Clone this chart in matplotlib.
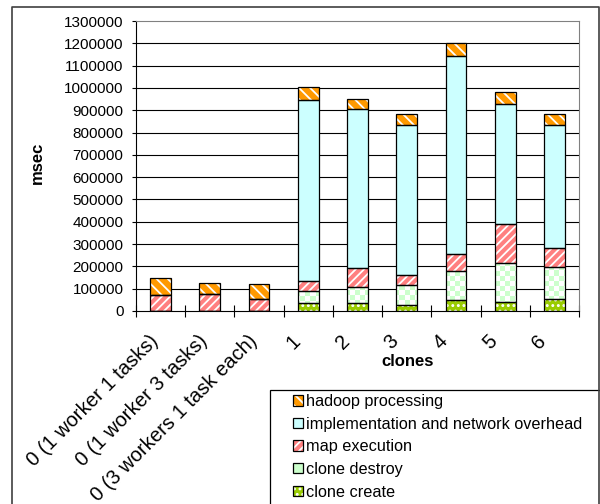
import numpy as np
import matplotlib.pyplot as plt
from matplotlib.colors import ListedColormap
from matplotlib.lines import Line2D
from matplotlib.patches import Rectangle
from matplotlib.ticker import StrMethodFormatter
from matplotlib.transforms import ScaledTranslation

plt.rcParams['font.family'] = ['Liberation Sans', 'DejaVu Sans']
plt.rcParams['hatch.linewidth'] = 1.3

# data (msec)
categories = ['0 (1 worker 1 tasks)', '0 (1 worker 3 tasks)', '0 (3 workers 1 task each)',
              '1', '2', '3', '4', '5', '6']
clone_create = [0, 0, 0, 36000, 34000, 25000, 49000, 42000, 54000]
clone_destroy = [0, 0, 0, 52000, 72000, 92000, 130000, 172000, 145000]
map_execution = [72000, 76000, 54000, 46000, 87000, 46000, 75000, 178000, 84000]
overhead = [0, 0, 0, 812000, 711000, 671000, 889000, 535000, 551000]
hadoop = [74000, 48000, 69000, 57000, 48000, 49000, 60000, 54000, 49000]
yticks = list(range(0, 1300001, 100000))

W, H = 600, 504
fig = plt.figure(figsize=(W / 100, H / 100), dpi=100)
ax = fig.add_axes([136 / W, 1 - 311 / H, 443 / W, 290 / H])

x = np.arange(len(categories))
width = 0.42
series = [
    ('clone create', clone_create, '#99CC00', '...'),
    ('clone destroy', clone_destroy, '#CCFFCC', None),
    ('map execution', map_execution, '#FF8080', '////'),
    ('implementation and network overhead', overhead, '#CCFFFF', None),
    ('hadoop processing', hadoop, '#FF9900', '\\\\\\'),
]

# checkerboard used for the clone destroy fill
nx, ny = 89, 58
checks = (np.indices((ny, nx)).sum(axis=0) % 2).astype(float)
check_cmap = ListedColormap(['#CCFFCC', 'white'])

bottom = np.zeros(len(categories))
handles, names = [], []
for name, vals, color, hatch in series:
    vals = np.asarray(vals, dtype=float)
    fill = ax.bar(x, vals, width, bottom=bottom, color=color, edgecolor='white',
                  hatch=hatch, linewidth=0, zorder=2)
    edge = ax.bar(x, vals, width, bottom=bottom, fill=False, edgecolor='black',
                  linewidth=0.9, zorder=4)
    if name == 'clone destroy':
        for bar in fill:
            im = ax.imshow(checks, cmap=check_cmap, extent=(-0.5, 8.5, 0, 1300000),
                           aspect='auto', interpolation='nearest', zorder=3)
            im.set_clip_path(bar)
    handles.append((fill, edge))
    names.append(name)
    bottom += vals

ax.set_xlim(-0.5, len(categories) - 0.5)
ax.set_ylim(0, 1300000)

for v in yticks[1:-1]:
    ax.axhline(v, color='black', linewidth=0.8, zorder=1)

ax.set_yticks(yticks)
ax.yaxis.set_major_formatter(StrMethodFormatter('{x:.0f}'))
ax.tick_params(axis='y', direction='out', length=3, pad=6, labelsize=11)

ax.set_xticks(np.arange(len(categories) + 1) - 0.5)
ax.set_xticklabels([])
ax.set_xticks(x, minor=True)
ax.set_xticklabels(categories, minor=True, rotation=45, rotation_mode='anchor',
                   ha='right', va='center', fontsize=14.5)
ax.tick_params(axis='x', which='major', direction='inout', length=9)
ax.tick_params(axis='x', which='minor', length=0, pad=19.5)
# excel nudges the short labels further left than the long ones
for lbl in ax.get_xticklabels(minor=True):
    dx = -11 if len(lbl.get_text()) < 3 else -5
    lbl.set_transform(lbl.get_transform() + ScaledTranslation(dx / 100, 0, fig.dpi_scale_trans))

for side in ['top', 'right']:
    ax.spines[side].set_color('#808080')
for side in ['left', 'bottom']:
    ax.spines[side].set_color('black')

fig.text(408 / W, 1 - 361.5 / H, 'clones', fontsize=12, fontweight='bold',
         ha='center', va='center')
fig.text(37.5 / W, 1 - 163 / H, 'msec', fontsize=12, fontweight='bold',
         ha='center', va='center', rotation=90)

leg = fig.legend(handles[::-1], names[::-1], loc='upper left',
                 bbox_to_anchor=(293 / W, 1 - 394 / H), frameon=False,
                 fontsize=11.7, handlelength=0.62, handleheight=0.62,
                 handletextpad=0.2, labelspacing=0.47, borderpad=0, borderaxespad=0)

fig.add_artist(Rectangle((270 / W, 1 - 530 / H), 360 / W, 140 / H, transform=fig.transFigure,
                         fill=False, edgecolor='black', linewidth=0.9))
fig.add_artist(Line2D([12 / W, 12 / W, 599 / W, 599 / W], [0, 1 - 7 / H, 1 - 7 / H, 0],
                      transform=fig.transFigure, color='#404040', linewidth=1.2))

fig.savefig('out.png', dpi=100)
